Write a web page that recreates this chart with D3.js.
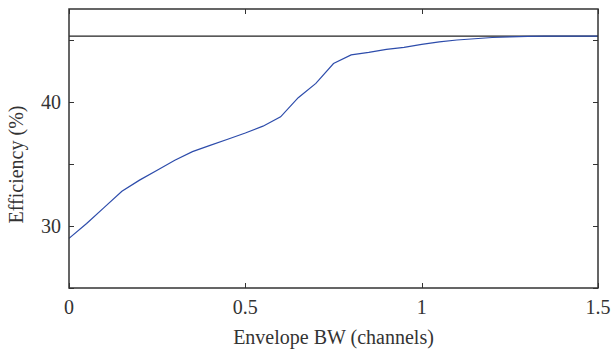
<!DOCTYPE html>
<html>
<head>
<meta charset="utf-8">
<script src="https://cdn.jsdelivr.net/npm/d3@7"></script>
<style>
  body { margin: 0; background: #fff; }
  text { font-family: "Liberation Serif", "DejaVu Serif", serif; fill: #333; }
</style>
</head>
<body>
<div id="chart"></div>
<script>
// envelope bandwidth (channels) and efficiency (%)
var bw = [0, 0.05, 0.1, 0.15, 0.2, 0.25, 0.3, 0.35, 0.4, 0.45, 0.5, 0.55, 0.6,
          0.65, 0.7, 0.75, 0.8, 0.85, 0.9, 0.95, 1.0, 1.05, 1.1, 1.15, 1.2,
          1.25, 1.3, 1.35, 1.4, 1.45, 1.5];
var efficiency = [29.0, 30.2, 31.5, 32.8, 33.7, 34.5, 35.3, 36.0, 36.5, 37.0, 37.5, 38.05, 38.8,
                  40.35, 41.5, 43.1, 43.8, 44.0, 44.25, 44.4, 44.65, 44.85, 45.0, 45.1, 45.2,
                  45.25, 45.3, 45.31, 45.32, 45.32, 45.32];
var limitValue = 45.32;

var xTicks = [0, 0.5, 1, 1.5];
var yTicks = [25, 30, 35, 40, 45];
var yLabels = [30, 40];

var chart_width = 611, chart_height = 350;
var plotLeft = 69, plotRight = 598, plotTop = 9, plotBottom = 288;

var svg = d3.select('#chart')
  .append('svg')
  .attr('width', chart_width)
  .attr('height', chart_height);

var x_scale = d3.scaleLinear().domain([0, 1.5]).range([plotLeft, plotRight]);
var y_scale = d3.scaleLinear().domain([25, 47.5]).range([plotBottom, plotTop]);

// tick marks pointing inward on all four sides
var tickLen = 5;
var ticks = svg.append('g').attr('stroke', '#333').attr('stroke-width', 1);
xTicks.forEach(function(t) {
  var px = Math.round(x_scale(t)) + 0.5;
  ticks.append('line').attr('x1', px).attr('x2', px).attr('y1', plotBottom).attr('y2', plotBottom - tickLen);
  ticks.append('line').attr('x1', px).attr('x2', px).attr('y1', plotTop).attr('y2', plotTop + tickLen);
});
yTicks.forEach(function(t) {
  var py = Math.round(y_scale(t)) + 0.5;
  ticks.append('line').attr('x1', plotLeft).attr('x2', plotLeft + tickLen).attr('y1', py).attr('y2', py);
  ticks.append('line').attr('x1', plotRight).attr('x2', plotRight - tickLen).attr('y1', py).attr('y2', py);
});

// tick labels
svg.selectAll('.xlab')
  .data(xTicks)
  .enter()
  .append('text')
  .attr('x', function(d) { return x_scale(d); })
  .attr('y', 314)
  .attr('text-anchor', 'middle')
  .style('font-size', '20px')
  .text(function(d) { return d; });

svg.selectAll('.ylab')
  .data(yLabels)
  .enter()
  .append('text')
  .attr('x', 61)
  .attr('y', function(d) { return y_scale(d) + 7; })
  .attr('text-anchor', 'end')
  .style('font-size', '20px')
  .text(function(d) { return d; });

// axis titles
svg.append('text')
  .attr('x', (plotLeft + plotRight) / 2)
  .attr('y', 344)
  .attr('text-anchor', 'middle')
  .style('font-size', '20px')
  .text('Envelope BW (channels)');

svg.append('text')
  .attr('transform', 'translate(23,' + ((plotTop + plotBottom) / 2 + 16) + ') rotate(-90)')
  .attr('text-anchor', 'middle')
  .style('font-size', '20px')
  .text('Efficiency (%)');

// upper limit line
svg.append('line')
  .attr('x1', plotLeft).attr('x2', plotRight)
  .attr('y1', y_scale(limitValue)).attr('y2', y_scale(limitValue))
  .attr('stroke', '#222')
  .attr('stroke-width', 1.2);

// efficiency curve
var line = d3.line()
  .x(function(d, i) { return x_scale(bw[i]); })
  .y(function(d) { return y_scale(d); });

svg.append('path')
  .datum(efficiency)
  .attr('d', line)
  .attr('fill', 'none')
  .attr('stroke', '#2d4cab')
  .attr('stroke-width', 1.2);

// frame
svg.append('rect')
  .attr('x', plotLeft).attr('y', plotTop)
  .attr('width', plotRight - plotLeft).attr('height', plotBottom - plotTop)
  .attr('fill', 'none')
  .attr('stroke', '#333')
  .attr('stroke-width', 1.5);
</script>
</body>
</html>
